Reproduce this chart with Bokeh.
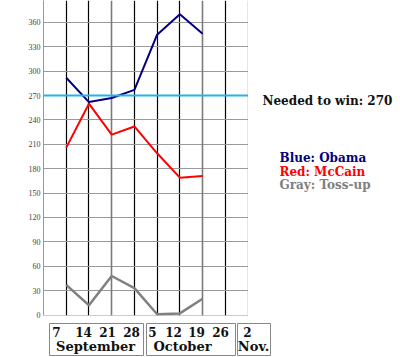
from bokeh.plotting import figure
from bokeh.models import Range1d, FixedTicker, Grid, Span
from bokeh.layouts import column, row
from bokeh.core.properties import value
from bokeh.embed import file_html
from bokeh.resources import INLINE

# ---- data ----
weeks = [1, 2, 3, 4, 5, 6, 7]          # 7 Sep .. 19 Oct
obama = [292, 262, 267, 277, 345, 370, 346]
mccain = [206, 260, 222, 232, 199, 169, 171]
tossup = [37, 12, 48, 33, 1, 2, 20]
needed = 270
y_ticks = [0, 30, 60, 90, 120, 150, 180, 210, 240, 270, 300, 330, 360]
day_labels = ["7", "14", "21", "28", "5", "12", "19", "26", "2"]
month_labels = ["September", "October", "Nov."]
legend_texts = ["Blue: Obama", "Red: McCain", "Gray: Toss-up"]
legend_colors = ["#000080", "#ff0000", "#808080"]

# ---- layout constants ----
W, H = 400, 357
LEFT = 43
MAIN_W = 248
FRAME_H = 315
BORDER_B = 7
MAIN_H = FRAME_H + BORDER_B
BOT_H = H - MAIN_H
FONT = "DejaVu Serif"

p = figure(width=MAIN_W, height=MAIN_H, output_backend="svg", toolbar_location=None,
           x_range=Range1d(0, 9.02), y_range=Range1d(-0.6, 387.0),
           min_border_left=LEFT, min_border_right=0,
           min_border_top=0, min_border_bottom=BORDER_B)
p.outline_line_color = None
p.xaxis.visible = False

ya = p.yaxis[0]
ya.ticker = FixedTicker(ticks=y_ticks)
ya.axis_line_color = "#999999"
ya.major_tick_line_color = None
ya.minor_tick_line_color = None
ya.major_tick_out = 0
ya.major_tick_in = 0
ya.major_label_standoff = 3
ya.major_label_text_font = "Liberation Serif"
ya.major_label_text_font_size = "8px"
ya.major_label_text_color = "#444444"

p.ygrid.ticker = FixedTicker(ticks=y_ticks)
p.ygrid.grid_line_color = "#9a9a9a"
p.ygrid.grid_line_width = 1

p.xgrid.ticker = FixedTicker(ticks=[1, 2, 4, 5, 6, 8, 9])
p.xgrid.grid_line_color = "#000000"
p.xgrid.grid_line_width = 1.2
p.add_layout(Grid(dimension=0, ticker=FixedTicker(ticks=[3, 7]),
                  grid_line_color="#7a7a7a", grid_line_width=1.6))

p.add_layout(Span(location=needed, dimension="width",
                  line_color="#22b4ee", line_width=2))

p.line(weeks, tossup, line_color="#808080", line_width=2.5)
p.line(weeks, mccain, line_color="#ff0000", line_width=2)
p.line(weeks, obama, line_color="#000080", line_width=2)

# ---- right panel: texts ----
RW = W - MAIN_W
r = figure(width=RW, height=MAIN_H, output_backend="svg", toolbar_location=None,
           x_range=Range1d(MAIN_W, W), y_range=Range1d(MAIN_H, 0),
           min_border=0)
r.axis.visible = False
r.grid.visible = False
r.outline_line_color = None

r.text(x=[262], y=[103], text=[f"Needed to win: {needed}"],
       text_font=value(FONT), text_font_style="bold", text_font_size="12px",
       text_color="#111111", text_baseline="middle", text_align="left")
r.text(x=[279, 279, 279], y=[161, 175, 189], text=legend_texts,
       text_font=value(FONT), text_font_style="bold", text_font_size="12px",
       text_color=legend_colors, text_baseline="middle", text_align="left")

# ---- bottom panel: date boxes ----
b = figure(width=W, height=BOT_H, output_backend="svg", toolbar_location=None,
           x_range=Range1d(0, W), y_range=Range1d(H, MAIN_H),
           min_border=0)
b.axis.visible = False
b.grid.visible = False
b.outline_line_color = None

box_l = [49, 146, 237]
box_r = [143, 235, 270]
b.quad(left=box_l, right=box_r, top=[323] * 3, bottom=[355] * 3,
       fill_color=None, line_color="#888888", line_width=1)

day_px = [56, 83, 107, 131, 152, 173, 196, 220, 247]
b.text(x=day_px, y=[331] * len(day_px), text=day_labels,
       text_font=value(FONT), text_font_style="bold", text_font_size="12px",
       text_color="#111111", text_baseline="middle", text_align="center")
month_px = [95, 182, 253]
b.text(x=month_px, y=[346] * 3, text=month_labels,
       text_font=value(FONT), text_font_style="bold", text_font_size="13px",
       text_color="#111111", text_baseline="middle", text_align="center")

layout = column(row(p, r, spacing=0), b, spacing=0)
open("out.html", "w").write(file_html(layout, INLINE))
